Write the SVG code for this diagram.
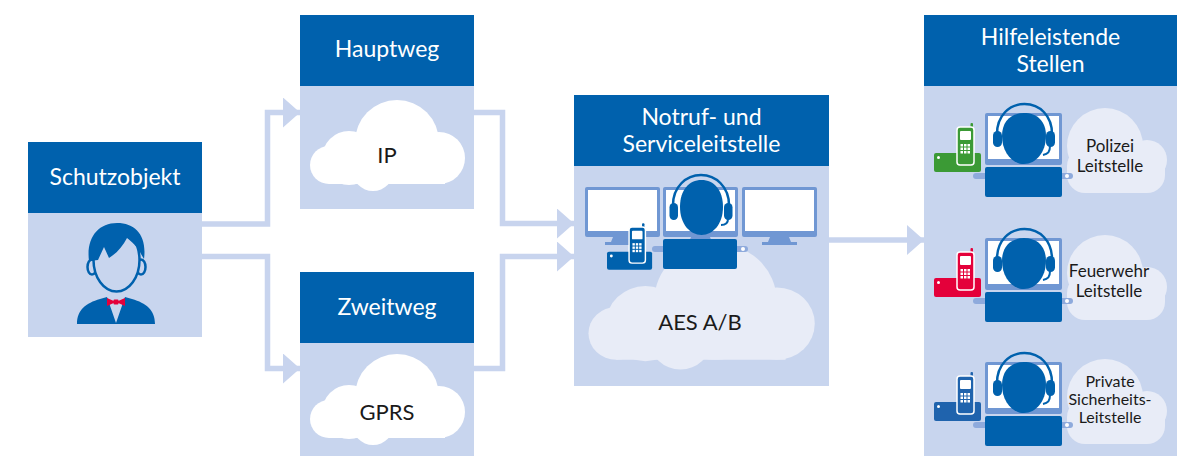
<svg xmlns="http://www.w3.org/2000/svg" xmlns:xlink="http://www.w3.org/1999/xlink" width="1188" height="459" viewBox="0 0 1188 459">
  <style>
    .hdr { fill: #0061ad; }
    .bdy { fill: #c8d5ee; }
    .ht { font-family: Lato, "Liberation Sans", sans-serif; font-size: 23px; fill: #ffffff; text-anchor: middle; }
    .ct { font-family: Lato, "Liberation Sans", sans-serif; font-size: 22px; fill: #1a1a1a; text-anchor: middle; }
    .st { font-family: Lato, "Liberation Sans", sans-serif; font-size: 17px; fill: #1a1a1a; text-anchor: middle; }
    .st2 { font-family: Lato, "Liberation Sans", sans-serif; font-size: 16px; fill: #1a1a1a; text-anchor: middle; }
    .conn { fill: none; stroke: #c8d4ee; stroke-width: 5.5; stroke-linejoin: miter; }
    .dark { fill: #0061ad; }
    .mid { fill: #7097d3; }
    .bar { fill: #8eaadc; }
    .wh { fill: #ffffff; }
  </style>
  <defs>
    <marker id="arrow" markerUnits="userSpaceOnUse" markerWidth="17" markerHeight="30" refX="17" refY="15" orient="auto">
      <path d="M0,0 L17,15 L0,30 Z" fill="#c8d4ee"/>
    </marker>
    <!-- wide cloud, 156 x 91 -->
    <g id="cloudA">
      <circle cx="20" cy="65" r="19"/>
      <circle cx="40" cy="58" r="27"/>
      <circle cx="88" cy="42" r="42"/>
      <circle cx="130" cy="58" r="26"/>
      <circle cx="64" cy="70" r="21"/>
      <rect x="20" y="50" width="116" height="34"/>
    </g>
    <!-- small cloud behind the dispatch desks, 100 x 85 -->
    <g id="cloudB">
      <circle cx="38" cy="38" r="38"/>
      <circle cx="80" cy="52" r="20"/>
      <rect x="0" y="40" width="98" height="45" rx="18"/>
    </g>
    <!-- monitor with stand -->
    <g id="monitor">
      <rect width="75" height="50" rx="2" class="mid"/>
      <rect x="3" y="3" width="69" height="41" class="wh"/>
      <path d="M28,50 H47 L49,55 H26 Z" class="mid"/>
      <rect x="20" y="55" width="35" height="3" class="mid"/>
    </g>
    <!-- cordless phone; fill comes from the use element -->
    <g id="phone">
      <rect x="0" y="26" width="47" height="19" rx="2"/>
      <circle cx="4.5" cy="30.5" r="1.5" class="wh"/>
      <rect x="36.5" y="-4" width="2.5" height="7" rx="1"/>
      <rect x="23" y="0" width="17" height="38" rx="3" stroke="#ffffff" stroke-width="1.5"/>
      <rect x="26" y="4" width="11" height="9" rx="1" class="wh"/>
      <g class="wh">
        <rect x="26.5" y="17" width="2.5" height="2.5"/>
        <rect x="30" y="17" width="2.5" height="2.5"/>
        <rect x="33.5" y="17" width="2.5" height="2.5"/>
        <rect x="26.5" y="20.5" width="2.5" height="2.5"/>
        <rect x="30" y="20.5" width="2.5" height="2.5"/>
        <rect x="33.5" y="20.5" width="2.5" height="2.5"/>
        <rect x="26.5" y="24" width="2.5" height="2.5"/>
        <rect x="30" y="24" width="2.5" height="2.5"/>
        <rect x="33.5" y="24" width="2.5" height="2.5"/>
      </g>
    </g>
    <!-- operator with headset at a desk -->
    <g id="agent">
      <rect x="973" y="173" width="100" height="6" rx="3" class="bar"/>
      <circle cx="1067" cy="176" r="2" class="wh"/>
      <rect x="985" y="113" width="77" height="52" rx="2" class="mid"/>
      <rect x="988" y="116" width="71" height="43" class="wh"/>
      <path d="M1002,136 C1002,121 1011,113 1024,113 C1037,113 1046,121 1046,136 C1046,152 1036,164 1024,164 C1012,164 1002,152 1002,136 Z" class="dark"/>
      <path d="M997,134 C997,116 1009,104 1024.5,104 C1040,104 1052,116 1052,134" fill="none" stroke="#0061ad" stroke-width="2.5"/>
      <rect x="993" y="131" width="9" height="16" rx="4.5" class="dark"/>
      <rect x="1046" y="131" width="9" height="16" rx="4.5" class="dark"/>
      <path d="M1050,146 C1050,152 1048,154 1043,155" fill="none" stroke="#0061ad" stroke-width="2"/>
      <rect x="985" y="167" width="77" height="30" rx="2" class="dark"/>
    </g>
  </defs>

  <!-- connectors -->
  <g id="connectors">
    <path class="conn" d="M202,224 H267.5 V112.5 H300" marker-end="url(#arrow)"/>
    <path class="conn" d="M202,256.5 H267.5 V368.5 H300" marker-end="url(#arrow)"/>
    <path class="conn" d="M474,112.5 H502.5 V223.5 H574" marker-end="url(#arrow)"/>
    <path class="conn" d="M474,368.5 H502.5 V256.5 H574" marker-end="url(#arrow)"/>
    <path class="conn" d="M829,240 H924" marker-end="url(#arrow)"/>
  </g>

  <!-- protected site -->
  <g id="schutzobjekt">
    <rect x="28" y="142" width="174" height="195" class="bdy"/>
    <rect x="28" y="142" width="174" height="71" class="hdr"/>
    <text class="ht" x="115" y="185">Schutzobjekt</text>
    <path d="M77,324 C77,310 86,303 100,299 L107,297 L116,323 L125,297 L132,299 C146,303 155,310 155,324 Z" class="dark"/>
    <ellipse cx="92" cy="267" rx="4.5" ry="7.5" fill="#c8d5ee" stroke="#0061ad" stroke-width="2.5"/>
    <ellipse cx="141" cy="267" rx="4.5" ry="7.5" fill="#c8d5ee" stroke="#0061ad" stroke-width="2.5"/>
    <ellipse cx="116.5" cy="260" rx="23" ry="31.5" fill="#c8d5ee" stroke="#0061ad" stroke-width="2.5"/>
    <path d="M89,261 C86,238 98,223 117,223 C136,223 147,236 144,259 L141,254 C138,247 132,242 127,238 C123,246 117,253 109,258 L104,247 L98,260 Z" class="dark"/>
    <path d="M107,298 L107,306 L116,302 Z M125,298 L125,306 L116,302 Z" fill="#e4003a"/>
    <rect x="113.5" y="299.5" width="5" height="5" rx="1" fill="#e4003a"/>
  </g>

  <!-- primary path -->
  <g id="hauptweg">
    <rect x="300" y="15" width="174" height="194" class="bdy"/>
    <rect x="300" y="15" width="174" height="71" class="hdr"/>
    <text class="ht" x="387" y="57">Hauptweg</text>
    <use xlink:href="#cloudA" transform="translate(309,100)" fill="#ffffff"/>
    <text class="ct" x="387" y="163">IP</text>
  </g>

  <!-- secondary path -->
  <g id="zweitweg">
    <rect x="300" y="272" width="174" height="184" class="bdy"/>
    <rect x="300" y="272" width="174" height="71" class="hdr"/>
    <text class="ht" x="387" y="315">Zweitweg</text>
    <use xlink:href="#cloudA" transform="translate(309,354)" fill="#ffffff"/>
    <text class="ct" x="387" y="420">GPRS</text>
  </g>

  <!-- alarm receiving centre -->
  <g id="leitstelle">
    <rect x="574" y="95" width="255" height="291" class="bdy"/>
    <rect x="574" y="95" width="255" height="71" class="hdr"/>
    <text class="ht" x="701.5" y="125">Notruf- und</text>
    <text class="ht" x="701.5" y="152">Serviceleitstelle</text>
    <use xlink:href="#cloudA" transform="translate(587,243) scale(1.46,1.39)" fill="#e8ecf7"/>
    <text class="ct" x="700" y="330">AES A/B</text>
    <use xlink:href="#monitor" x="585" y="187"/>
    <use xlink:href="#monitor" x="663" y="187"/>
    <use xlink:href="#monitor" x="742" y="187"/>
    <rect x="652" y="246" width="96" height="6" rx="3" class="bar"/>
    <circle cx="743" cy="249" r="2" class="wh"/>
    <path d="M680,207 C680,190 689,180 701.5,180 C714,180 723,190 723,207 C723,224 713,235 701.5,235 C690,235 680,224 680,207 Z" class="dark"/>
    <path d="M673,205 C673,187 686,175 701,175 C716,175 729,187 729,205" fill="none" stroke="#0061ad" stroke-width="2.5"/>
    <rect x="669.5" y="203" width="8.5" height="17" rx="4.2" class="dark"/>
    <rect x="724" y="203" width="8.5" height="17" rx="4.2" class="dark"/>
    <path d="M728,219 C728,223 726,225 721,225" fill="none" stroke="#0061ad" stroke-width="2"/>
    <rect x="663" y="239" width="74" height="30" rx="2" class="dark"/>
    <use xlink:href="#phone" transform="translate(607,227) scale(0.96,0.95)" fill="#0061ad"/>
  </g>

  <!-- responding services -->
  <g id="hilfeleistende-stellen">
    <rect x="924" y="15" width="253" height="441" class="bdy"/>
    <rect x="924" y="15" width="253" height="71" class="hdr"/>
    <text class="ht" x="1050.5" y="45">Hilfeleistende</text>
    <text class="ht" x="1050.5" y="72">Stellen</text>

    <g id="polizei">
      <use xlink:href="#cloudB" transform="translate(1067,108)" fill="#e8ecf7"/>
      <use xlink:href="#agent"/>
      <use xlink:href="#phone" transform="translate(934,127)" fill="#3b9a35"/>
      <text class="st" x="1110" y="152">Polizei</text>
      <text class="st" x="1110" y="172">Leitstelle</text>
    </g>

    <g id="feuerwehr">
      <use xlink:href="#cloudB" transform="translate(1067,235)" fill="#e8ecf7"/>
      <use xlink:href="#agent" transform="translate(0,125)"/>
      <use xlink:href="#phone" transform="translate(934,252)" fill="#e4003a"/>
      <text class="st" x="1109" y="277">Feuerwehr</text>
      <text class="st" x="1109" y="297">Leitstelle</text>
    </g>

    <g id="private">
      <use xlink:href="#cloudB" transform="translate(1067,359)" fill="#e8ecf7"/>
      <use xlink:href="#agent" transform="translate(0,249)"/>
      <use xlink:href="#phone" transform="translate(934,376)" fill="#1f63ad"/>
      <text class="st2" x="1110" y="387">Private</text>
      <text class="st2" x="1110" y="405">Sicherheits-</text>
      <text class="st2" x="1110" y="423">Leitstelle</text>
    </g>
  </g>
</svg>
